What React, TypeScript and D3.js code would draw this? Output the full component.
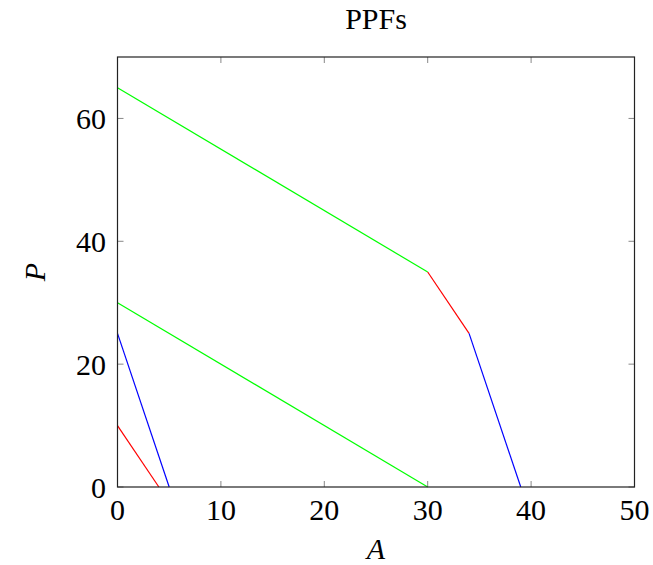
import React, { useEffect, useRef } from 'react';
import * as d3 from 'd3';

// PPF segments: each one is [A, P] points
const segments = [
  { color: '#ff0000', points: [[0, 10], [4, 0]] },
  { color: '#0000ff', points: [[0, 25], [5, 0]] },
  { color: '#00ff00', points: [[0, 30], [30, 0]] },
  { color: '#00ff00', points: [[0, 65], [30, 35]] },
  { color: '#ff0000', points: [[30, 35], [34, 25]] },
  { color: '#0000ff', points: [[34, 25], [39, 0]] },
];
const xTicks = [0, 10, 20, 30, 40, 50];
const yTicks = [0, 20, 40, 60];

const App = () => {
  const ref = useRef<SVGSVGElement>(null);

  useEffect(() => {
    const svg = d3.select(ref.current);
    svg.selectAll('*').remove();
    const font = '"Liberation Serif", "Times New Roman", serif';
    const fs = '30px';
    const left = 117.5, right = 634.5, top = 57, bottom = 487;

    const x = d3.scaleLinear().domain([0, 50]).range([left, right]);
    const y = d3.scaleLinear().domain([0, 70]).range([bottom, top]);
    const tickLen = 6;

    // ticks (inside, mirrored)
    const g = svg.append('g');
    xTicks.forEach(t => {
      g.append('line').attr('x1', x(t)).attr('x2', x(t)).attr('y1', bottom).attr('y2', bottom - tickLen)
        .attr('stroke', '#888').attr('stroke-width', 1);
      g.append('line').attr('x1', x(t)).attr('x2', x(t)).attr('y1', top).attr('y2', top + tickLen)
        .attr('stroke', '#888').attr('stroke-width', 1);
      g.append('text').attr('x', x(t)).attr('y', 520).attr('text-anchor', 'middle')
        .style('font-family', font).style('font-size', fs).text(t);
    });
    yTicks.forEach(t => {
      g.append('line').attr('x1', left).attr('x2', left + tickLen).attr('y1', y(t)).attr('y2', y(t))
        .attr('stroke', '#888').attr('stroke-width', 1);
      g.append('line').attr('x1', right).attr('x2', right - tickLen).attr('y1', y(t)).attr('y2', y(t))
        .attr('stroke', '#888').attr('stroke-width', 1);
      g.append('text').attr('x', 106).attr('y', y(t)).attr('dy', '0.35em').attr('text-anchor', 'end')
        .style('font-family', font).style('font-size', fs).text(t);
    });

    const line = d3.line<number[]>().x(d => x(d[0])).y(d => y(d[1]));
    svg.append('g').selectAll('path')
      .data(segments)
      .enter()
      .append('path')
      .attr('d', d => line(d.points))
      .attr('fill', 'none')
      .attr('stroke', d => d.color)
      .attr('stroke-width', 1.2);

    // frame
    svg.append('rect').attr('x', left).attr('y', top).attr('width', right - left).attr('height', bottom - top)
      .attr('fill', 'none').attr('stroke', '#222').attr('stroke-width', 1.2);

    svg.append('text').attr('x', (left + right) / 2).attr('y', 29).attr('text-anchor', 'middle')
      .style('font-family', font).style('font-size', fs).text('PPFs');
    svg.append('text').attr('x', (left + right) / 2).attr('y', 559).attr('text-anchor', 'middle')
      .style('font-family', font).style('font-size', fs).style('font-style', 'italic').text('A');
    svg.append('text').attr('transform', `translate(45,${(top + bottom) / 2}) rotate(-90)`)
      .attr('text-anchor', 'middle')
      .style('font-family', font).style('font-size', fs).style('font-style', 'italic').text('P');
  }, []);

  return (
    <svg ref={ref} width={653} height={565} style={{ position: 'absolute', left: 0, top: 0, background: '#fff' }}></svg>
  );
};

export default App;
